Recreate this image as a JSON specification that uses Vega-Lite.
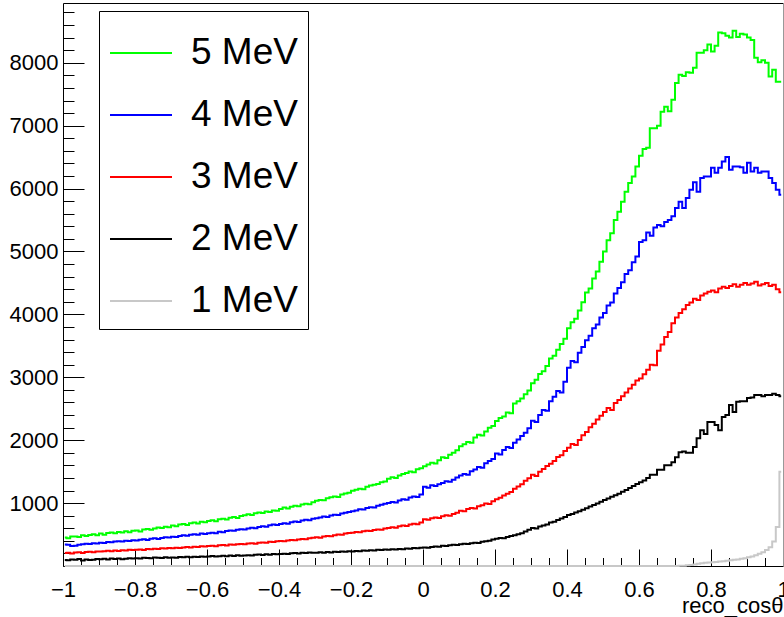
{
  "$schema": "https://vega.github.io/schema/vega-lite/v6.json",
  "width": 720,
  "height": 563,
  "autosize": {"type": "none"},
  "padding": {"left": 63, "top": 3, "right": 1, "bottom": 51},
  "background": "white",
  "config": {
    "font": "Liberation Sans",
    "view": {"stroke": null},
    "axis": {
      "grid": false,
      "zindex": 0,
      "labelColor": "black",
      "labelFontSize": 22,
      "labelFont": "Liberation Sans",
      "tickColor": "black",
      "tickWidth": 1,
      "domainColor": "black",
      "domainWidth": 1,
      "titleColor": "black",
      "titleFont": "Liberation Sans",
      "titleFontWeight": "normal",
      "labelOverlap": false,
      "labelFlush": false
    }
  },
  "datasets": {
    "e5": [
      {"c":-0.995,"n":452},{"c":-0.985,"n":441},{"c":-0.975,"n":468},{"c":-0.965,"n":470},{"c":-0.955,"n":463},{"c":-0.945,"n":487},{"c":-0.935,"n":478},{"c":-0.925,"n":492},{"c":-0.915,"n":503},{"c":-0.905,"n":488},
      {"c":-0.895,"n":515},{"c":-0.885,"n":498},{"c":-0.875,"n":524},{"c":-0.865,"n":531},{"c":-0.855,"n":519},{"c":-0.845,"n":540},{"c":-0.835,"n":533},{"c":-0.825,"n":552},{"c":-0.815,"n":538},{"c":-0.805,"n":561},
      {"c":-0.795,"n":566},{"c":-0.785,"n":548},{"c":-0.775,"n":579},{"c":-0.765,"n":590},{"c":-0.755,"n":575},{"c":-0.745,"n":598},{"c":-0.735,"n":611},{"c":-0.725,"n":603},{"c":-0.715,"n":624},{"c":-0.705,"n":618},
      {"c":-0.695,"n":645},{"c":-0.685,"n":631},{"c":-0.675,"n":658},{"c":-0.665,"n":668},{"c":-0.655,"n":652},{"c":-0.645,"n":679},{"c":-0.635,"n":690},{"c":-0.625,"n":676},{"c":-0.615,"n":702},{"c":-0.605,"n":695},
      {"c":-0.595,"n":716},{"c":-0.585,"n":728},{"c":-0.575,"n":711},{"c":-0.565,"n":745},{"c":-0.555,"n":752},{"c":-0.545,"n":740},{"c":-0.535,"n":768},{"c":-0.525,"n":779},{"c":-0.515,"n":763},{"c":-0.505,"n":794},
      {"c":-0.495,"n":806},{"c":-0.485,"n":822},{"c":-0.475,"n":810},{"c":-0.465,"n":838},{"c":-0.455,"n":851},{"c":-0.445,"n":842},{"c":-0.435,"n":866},{"c":-0.425,"n":858},{"c":-0.415,"n":884},{"c":-0.405,"n":879},
      {"c":-0.395,"n":905},{"c":-0.385,"n":928},{"c":-0.375,"n":916},{"c":-0.365,"n":942},{"c":-0.355,"n":959},{"c":-0.345,"n":948},{"c":-0.335,"n":976},{"c":-0.325,"n":991},{"c":-0.315,"n":982},{"c":-0.305,"n":1013},
      {"c":-0.295,"n":1036},{"c":-0.285,"n":1051},{"c":-0.275,"n":1047},{"c":-0.265,"n":1079},{"c":-0.255,"n":1093},{"c":-0.245,"n":1104},{"c":-0.235,"n":1098},{"c":-0.225,"n":1135},{"c":-0.215,"n":1152},{"c":-0.205,"n":1163},
      {"c":-0.195,"n":1195},{"c":-0.185,"n":1214},{"c":-0.175,"n":1229},{"c":-0.165,"n":1222},{"c":-0.155,"n":1258},{"c":-0.145,"n":1281},{"c":-0.135,"n":1290},{"c":-0.125,"n":1305},{"c":-0.115,"n":1331},{"c":-0.105,"n":1342},
      {"c":-0.095,"n":1386},{"c":-0.085,"n":1410},{"c":-0.075,"n":1398},{"c":-0.065,"n":1437},{"c":-0.055,"n":1462},{"c":-0.045,"n":1480},{"c":-0.035,"n":1503},{"c":-0.025,"n":1491},{"c":-0.015,"n":1539},{"c":-0.005,"n":1552},
      {"c":0.005,"n":1584},{"c":0.015,"n":1612},{"c":0.025,"n":1641},{"c":0.035,"n":1628},{"c":0.045,"n":1683},{"c":0.055,"n":1730},{"c":0.065,"n":1718},{"c":0.075,"n":1769},{"c":0.085,"n":1801},{"c":0.095,"n":1842},
      {"c":0.105,"n":1903},{"c":0.115,"n":1936},{"c":0.125,"n":1972},{"c":0.135,"n":1958},{"c":0.145,"n":2041},{"c":0.155,"n":2088},{"c":0.165,"n":2075},{"c":0.175,"n":2140},{"c":0.185,"n":2196},{"c":0.195,"n":2225},
      {"c":0.205,"n":2304},{"c":0.215,"n":2351},{"c":0.225,"n":2378},{"c":0.235,"n":2442},{"c":0.245,"n":2430},{"c":0.255,"n":2583},{"c":0.265,"n":2618},{"c":0.275,"n":2664},{"c":0.285,"n":2731},{"c":0.295,"n":2790},
      {"c":0.305,"n":2904},{"c":0.315,"n":2962},{"c":0.325,"n":3051},{"c":0.335,"n":3094},{"c":0.345,"n":3180},{"c":0.355,"n":3298},{"c":0.365,"n":3342},{"c":0.375,"n":3436},{"c":0.385,"n":3530},{"c":0.395,"n":3612},
      {"c":0.405,"n":3781},{"c":0.415,"n":3874},{"c":0.425,"n":3929},{"c":0.435,"n":4060},{"c":0.445,"n":4192},{"c":0.455,"n":4346},{"c":0.465,"n":4410},{"c":0.475,"n":4571},{"c":0.485,"n":4680},{"c":0.495,"n":4835},
      {"c":0.505,"n":5000},{"c":0.515,"n":5180},{"c":0.525,"n":5290},{"c":0.535,"n":5500},{"c":0.545,"n":5630},{"c":0.555,"n":5790},{"c":0.565,"n":5950},{"c":0.575,"n":6090},{"c":0.585,"n":6190},{"c":0.595,"n":6350},
      {"c":0.605,"n":6520},{"c":0.615,"n":6630},{"c":0.625,"n":6650},{"c":0.635,"n":6960},{"c":0.645,"n":6960},{"c":0.655,"n":7000},{"c":0.665,"n":7220},{"c":0.675,"n":7300},{"c":0.685,"n":7230},{"c":0.695,"n":7410},
      {"c":0.705,"n":7680},{"c":0.715,"n":7810},{"c":0.725,"n":7790},{"c":0.735,"n":7850},{"c":0.745,"n":7840},{"c":0.755,"n":7920},{"c":0.765,"n":8160},{"c":0.775,"n":8160},{"c":0.785,"n":8200},{"c":0.795,"n":8290},
      {"c":0.805,"n":8180},{"c":0.815,"n":8270},{"c":0.825,"n":8480},{"c":0.835,"n":8470},{"c":0.845,"n":8430},{"c":0.855,"n":8400},{"c":0.865,"n":8510},{"c":0.875,"n":8410},{"c":0.885,"n":8460},{"c":0.895,"n":8450},
      {"c":0.905,"n":8400},{"c":0.915,"n":8360},{"c":0.925,"n":8080},{"c":0.935,"n":8010},{"c":0.945,"n":8040},{"c":0.955,"n":8000},{"c":0.965,"n":7780},{"c":0.975,"n":7890},{"c":0.985,"n":7700},{"c":0.995,"n":7700}
    ],
    "e4": [
      {"c":-0.995,"n":340},{"c":-0.985,"n":336},{"c":-0.975,"n":318},{"c":-0.965,"n":322},{"c":-0.955,"n":338},{"c":-0.945,"n":345},{"c":-0.935,"n":352},{"c":-0.925,"n":348},{"c":-0.915,"n":361},{"c":-0.905,"n":357},
      {"c":-0.895,"n":370},{"c":-0.885,"n":366},{"c":-0.875,"n":381},{"c":-0.865,"n":376},{"c":-0.855,"n":388},{"c":-0.845,"n":395},{"c":-0.835,"n":389},{"c":-0.825,"n":401},{"c":-0.815,"n":398},{"c":-0.805,"n":410},
      {"c":-0.795,"n":407},{"c":-0.785,"n":418},{"c":-0.775,"n":426},{"c":-0.765,"n":415},{"c":-0.755,"n":433},{"c":-0.745,"n":440},{"c":-0.735,"n":431},{"c":-0.725,"n":447},{"c":-0.715,"n":458},{"c":-0.705,"n":452},
      {"c":-0.695,"n":466},{"c":-0.685,"n":462},{"c":-0.675,"n":475},{"c":-0.665,"n":487},{"c":-0.655,"n":480},{"c":-0.645,"n":495},{"c":-0.635,"n":506},{"c":-0.625,"n":498},{"c":-0.615,"n":515},{"c":-0.605,"n":509},
      {"c":-0.595,"n":522},{"c":-0.585,"n":530},{"c":-0.575,"n":519},{"c":-0.565,"n":545},{"c":-0.555,"n":538},{"c":-0.545,"n":556},{"c":-0.535,"n":566},{"c":-0.525,"n":559},{"c":-0.515,"n":575},{"c":-0.505,"n":584},
      {"c":-0.495,"n":579},{"c":-0.485,"n":595},{"c":-0.475,"n":608},{"c":-0.465,"n":601},{"c":-0.455,"n":619},{"c":-0.445,"n":630},{"c":-0.435,"n":624},{"c":-0.425,"n":647},{"c":-0.415,"n":659},{"c":-0.405,"n":650},
      {"c":-0.395,"n":668},{"c":-0.385,"n":680},{"c":-0.375,"n":673},{"c":-0.365,"n":695},{"c":-0.355,"n":708},{"c":-0.345,"n":701},{"c":-0.335,"n":722},{"c":-0.325,"n":736},{"c":-0.315,"n":729},{"c":-0.305,"n":752},
      {"c":-0.295,"n":760},{"c":-0.285,"n":771},{"c":-0.275,"n":785},{"c":-0.265,"n":779},{"c":-0.255,"n":801},{"c":-0.245,"n":816},{"c":-0.235,"n":810},{"c":-0.225,"n":834},{"c":-0.215,"n":847},{"c":-0.205,"n":858},
      {"c":-0.195,"n":869},{"c":-0.185,"n":882},{"c":-0.175,"n":903},{"c":-0.165,"n":897},{"c":-0.155,"n":921},{"c":-0.145,"n":934},{"c":-0.135,"n":928},{"c":-0.125,"n":957},{"c":-0.115,"n":972},{"c":-0.105,"n":990},
      {"c":-0.095,"n":1002},{"c":-0.085,"n":1018},{"c":-0.075,"n":1011},{"c":-0.065,"n":1043},{"c":-0.055,"n":1060},{"c":-0.045,"n":1052},{"c":-0.035,"n":1088},{"c":-0.025,"n":1104},{"c":-0.015,"n":1097},{"c":-0.005,"n":1135},
      {"c":0.005,"n":1260},{"c":0.015,"n":1245},{"c":0.025,"n":1282},{"c":0.035,"n":1270},{"c":0.045,"n":1301},{"c":0.055,"n":1320},{"c":0.065,"n":1346},{"c":0.075,"n":1338},{"c":0.085,"n":1372},{"c":0.095,"n":1405},
      {"c":0.105,"n":1440},{"c":0.115,"n":1462},{"c":0.125,"n":1451},{"c":0.135,"n":1508},{"c":0.145,"n":1536},{"c":0.155,"n":1575},{"c":0.165,"n":1560},{"c":0.175,"n":1632},{"c":0.185,"n":1670},{"c":0.195,"n":1701},
      {"c":0.205,"n":1790},{"c":0.215,"n":1772},{"c":0.225,"n":1845},{"c":0.235,"n":1890},{"c":0.245,"n":1875},{"c":0.255,"n":1960},{"c":0.265,"n":2010},{"c":0.275,"n":2065},{"c":0.285,"n":2120},{"c":0.295,"n":2190},
      {"c":0.305,"n":2310},{"c":0.315,"n":2290},{"c":0.325,"n":2400},{"c":0.335,"n":2480},{"c":0.345,"n":2470},{"c":0.355,"n":2620},{"c":0.365,"n":2690},{"c":0.375,"n":2780},{"c":0.385,"n":2760},{"c":0.395,"n":2930},
      {"c":0.405,"n":3150},{"c":0.415,"n":3260},{"c":0.425,"n":3240},{"c":0.435,"n":3390},{"c":0.445,"n":3480},{"c":0.455,"n":3590},{"c":0.465,"n":3660},{"c":0.475,"n":3780},{"c":0.485,"n":3840},{"c":0.495,"n":3950},
      {"c":0.505,"n":4020},{"c":0.515,"n":4140},{"c":0.525,"n":4190},{"c":0.535,"n":4330},{"c":0.545,"n":4420},{"c":0.555,"n":4510},{"c":0.565,"n":4640},{"c":0.575,"n":4700},{"c":0.585,"n":4830},{"c":0.595,"n":4920},
      {"c":0.605,"n":5150},{"c":0.615,"n":5180},{"c":0.625,"n":5300},{"c":0.635,"n":5250},{"c":0.645,"n":5380},{"c":0.655,"n":5420},{"c":0.665,"n":5400},{"c":0.675,"n":5470},{"c":0.685,"n":5500},{"c":0.695,"n":5560},
      {"c":0.705,"n":5690},{"c":0.715,"n":5790},{"c":0.725,"n":5690},{"c":0.735,"n":5850},{"c":0.745,"n":5980},{"c":0.755,"n":6100},{"c":0.765,"n":5950},{"c":0.775,"n":6170},{"c":0.785,"n":6190},{"c":0.795,"n":6190},
      {"c":0.805,"n":6330},{"c":0.815,"n":6250},{"c":0.825,"n":6330},{"c":0.835,"n":6430},{"c":0.845,"n":6500},{"c":0.855,"n":6300},{"c":0.865,"n":6350},{"c":0.875,"n":6350},{"c":0.885,"n":6340},{"c":0.895,"n":6250},
      {"c":0.905,"n":6410},{"c":0.915,"n":6270},{"c":0.925,"n":6330},{"c":0.935,"n":6250},{"c":0.945,"n":6270},{"c":0.955,"n":6270},{"c":0.965,"n":6170},{"c":0.975,"n":6090},{"c":0.985,"n":5980},{"c":0.995,"n":5900}
    ],
    "e3": [
      {"c":-0.995,"n":205},{"c":-0.985,"n":212},{"c":-0.975,"n":198},{"c":-0.965,"n":214},{"c":-0.955,"n":219},{"c":-0.945,"n":208},{"c":-0.935,"n":223},{"c":-0.925,"n":227},{"c":-0.915,"n":218},{"c":-0.905,"n":231},
      {"c":-0.895,"n":229},{"c":-0.885,"n":236},{"c":-0.875,"n":242},{"c":-0.865,"n":233},{"c":-0.855,"n":247},{"c":-0.845,"n":240},{"c":-0.835,"n":251},{"c":-0.825,"n":246},{"c":-0.815,"n":258},{"c":-0.805,"n":254},
      {"c":-0.795,"n":257},{"c":-0.785,"n":263},{"c":-0.775,"n":255},{"c":-0.765,"n":270},{"c":-0.755,"n":266},{"c":-0.745,"n":276},{"c":-0.735,"n":272},{"c":-0.725,"n":281},{"c":-0.715,"n":278},{"c":-0.705,"n":286},
      {"c":-0.695,"n":282},{"c":-0.685,"n":291},{"c":-0.675,"n":287},{"c":-0.665,"n":296},{"c":-0.655,"n":302},{"c":-0.645,"n":294},{"c":-0.635,"n":308},{"c":-0.625,"n":304},{"c":-0.615,"n":313},{"c":-0.605,"n":309},
      {"c":-0.595,"n":316},{"c":-0.585,"n":322},{"c":-0.575,"n":313},{"c":-0.565,"n":328},{"c":-0.555,"n":334},{"c":-0.545,"n":326},{"c":-0.535,"n":340},{"c":-0.525,"n":337},{"c":-0.515,"n":345},{"c":-0.505,"n":351},
      {"c":-0.495,"n":345},{"c":-0.485,"n":356},{"c":-0.475,"n":362},{"c":-0.465,"n":354},{"c":-0.455,"n":368},{"c":-0.445,"n":375},{"c":-0.435,"n":370},{"c":-0.425,"n":384},{"c":-0.415,"n":380},{"c":-0.405,"n":392},
      {"c":-0.395,"n":398},{"c":-0.385,"n":392},{"c":-0.375,"n":405},{"c":-0.365,"n":414},{"c":-0.355,"n":409},{"c":-0.345,"n":423},{"c":-0.335,"n":431},{"c":-0.325,"n":426},{"c":-0.315,"n":440},{"c":-0.305,"n":449},
      {"c":-0.295,"n":456},{"c":-0.285,"n":451},{"c":-0.275,"n":468},{"c":-0.265,"n":477},{"c":-0.255,"n":472},{"c":-0.245,"n":490},{"c":-0.235,"n":502},{"c":-0.225,"n":496},{"c":-0.215,"n":515},{"c":-0.205,"n":524},
      {"c":-0.195,"n":530},{"c":-0.185,"n":541},{"c":-0.175,"n":536},{"c":-0.165,"n":552},{"c":-0.155,"n":561},{"c":-0.145,"n":556},{"c":-0.135,"n":574},{"c":-0.125,"n":582},{"c":-0.115,"n":577},{"c":-0.105,"n":596},
      {"c":-0.095,"n":605},{"c":-0.085,"n":617},{"c":-0.075,"n":610},{"c":-0.065,"n":630},{"c":-0.055,"n":643},{"c":-0.045,"n":637},{"c":-0.035,"n":660},{"c":-0.025,"n":671},{"c":-0.015,"n":664},{"c":-0.005,"n":690},
      {"c":0.005,"n":745},{"c":0.015,"n":736},{"c":0.025,"n":760},{"c":0.035,"n":772},{"c":0.045,"n":765},{"c":0.055,"n":792},{"c":0.065,"n":806},{"c":0.075,"n":799},{"c":0.085,"n":828},{"c":0.095,"n":845},
      {"c":0.105,"n":880},{"c":0.115,"n":871},{"c":0.125,"n":905},{"c":0.135,"n":921},{"c":0.145,"n":914},{"c":0.155,"n":948},{"c":0.165,"n":967},{"c":0.175,"n":992},{"c":0.185,"n":984},{"c":0.195,"n":1030},
      {"c":0.205,"n":1060},{"c":0.215,"n":1085},{"c":0.225,"n":1120},{"c":0.235,"n":1150},{"c":0.245,"n":1176},{"c":0.255,"n":1230},{"c":0.265,"n":1262},{"c":0.275,"n":1301},{"c":0.285,"n":1356},{"c":0.295,"n":1395},
      {"c":0.305,"n":1450},{"c":0.315,"n":1432},{"c":0.325,"n":1498},{"c":0.335,"n":1541},{"c":0.345,"n":1590},{"c":0.355,"n":1625},{"c":0.365,"n":1670},{"c":0.375,"n":1731},{"c":0.385,"n":1762},{"c":0.395,"n":1830},
      {"c":0.405,"n":1880},{"c":0.415,"n":1940},{"c":0.425,"n":1925},{"c":0.435,"n":2005},{"c":0.445,"n":2080},{"c":0.455,"n":2130},{"c":0.465,"n":2205},{"c":0.475,"n":2260},{"c":0.485,"n":2330},{"c":0.495,"n":2390},
      {"c":0.505,"n":2450},{"c":0.515,"n":2510},{"c":0.525,"n":2480},{"c":0.535,"n":2590},{"c":0.545,"n":2640},{"c":0.555,"n":2700},{"c":0.565,"n":2760},{"c":0.575,"n":2820},{"c":0.585,"n":2880},{"c":0.595,"n":2950},
      {"c":0.605,"n":2980},{"c":0.615,"n":3050},{"c":0.625,"n":3120},{"c":0.635,"n":3200},{"c":0.645,"n":3190},{"c":0.655,"n":3420},{"c":0.665,"n":3520},{"c":0.675,"n":3640},{"c":0.685,"n":3720},{"c":0.695,"n":3860},
      {"c":0.705,"n":3950},{"c":0.715,"n":4020},{"c":0.725,"n":4080},{"c":0.735,"n":4150},{"c":0.745,"n":4190},{"c":0.755,"n":4250},{"c":0.765,"n":4230},{"c":0.775,"n":4300},{"c":0.785,"n":4330},{"c":0.795,"n":4360},
      {"c":0.805,"n":4380},{"c":0.815,"n":4350},{"c":0.825,"n":4410},{"c":0.835,"n":4440},{"c":0.845,"n":4420},{"c":0.855,"n":4450},{"c":0.865,"n":4480},{"c":0.875,"n":4440},{"c":0.885,"n":4470},{"c":0.895,"n":4500},
      {"c":0.905,"n":4470},{"c":0.915,"n":4490},{"c":0.925,"n":4520},{"c":0.935,"n":4460},{"c":0.945,"n":4480},{"c":0.955,"n":4500},{"c":0.965,"n":4450},{"c":0.975,"n":4470},{"c":0.985,"n":4400},{"c":0.995,"n":4350}
    ],
    "e2": [
      {"c":-0.995,"n":95},{"c":-0.985,"n":90},{"c":-0.975,"n":102},{"c":-0.965,"n":98},{"c":-0.955,"n":110},{"c":-0.945,"n":88},{"c":-0.935,"n":104},{"c":-0.925,"n":97},{"c":-0.915,"n":101},{"c":-0.905,"n":112},
      {"c":-0.895,"n":108},{"c":-0.885,"n":115},{"c":-0.875,"n":103},{"c":-0.865,"n":118},{"c":-0.855,"n":112},{"c":-0.845,"n":121},{"c":-0.835,"n":109},{"c":-0.825,"n":116},{"c":-0.815,"n":124},{"c":-0.805,"n":119},
      {"c":-0.795,"n":125},{"c":-0.785,"n":118},{"c":-0.775,"n":131},{"c":-0.765,"n":127},{"c":-0.755,"n":122},{"c":-0.745,"n":135},{"c":-0.735,"n":130},{"c":-0.725,"n":126},{"c":-0.715,"n":139},{"c":-0.705,"n":133},
      {"c":-0.695,"n":137},{"c":-0.685,"n":131},{"c":-0.675,"n":142},{"c":-0.665,"n":138},{"c":-0.655,"n":146},{"c":-0.645,"n":140},{"c":-0.635,"n":149},{"c":-0.625,"n":144},{"c":-0.615,"n":152},{"c":-0.605,"n":147},
      {"c":-0.595,"n":151},{"c":-0.585,"n":158},{"c":-0.575,"n":150},{"c":-0.565,"n":156},{"c":-0.555,"n":162},{"c":-0.545,"n":155},{"c":-0.535,"n":166},{"c":-0.525,"n":160},{"c":-0.515,"n":169},{"c":-0.505,"n":163},
      {"c":-0.495,"n":168},{"c":-0.485,"n":172},{"c":-0.475,"n":165},{"c":-0.465,"n":177},{"c":-0.455,"n":181},{"c":-0.445,"n":174},{"c":-0.435,"n":186},{"c":-0.425,"n":180},{"c":-0.415,"n":190},{"c":-0.405,"n":185},
      {"c":-0.395,"n":189},{"c":-0.385,"n":195},{"c":-0.375,"n":190},{"c":-0.365,"n":201},{"c":-0.355,"n":207},{"c":-0.345,"n":199},{"c":-0.335,"n":211},{"c":-0.325,"n":205},{"c":-0.315,"n":214},{"c":-0.305,"n":210},
      {"c":-0.295,"n":212},{"c":-0.285,"n":218},{"c":-0.275,"n":209},{"c":-0.265,"n":222},{"c":-0.255,"n":216},{"c":-0.245,"n":227},{"c":-0.235,"n":221},{"c":-0.225,"n":231},{"c":-0.215,"n":226},{"c":-0.205,"n":236},
      {"c":-0.195,"n":232},{"c":-0.185,"n":240},{"c":-0.175,"n":235},{"c":-0.165,"n":246},{"c":-0.155,"n":241},{"c":-0.145,"n":252},{"c":-0.135,"n":248},{"c":-0.125,"n":257},{"c":-0.115,"n":253},{"c":-0.105,"n":262},
      {"c":-0.095,"n":258},{"c":-0.085,"n":266},{"c":-0.075,"n":261},{"c":-0.065,"n":272},{"c":-0.055,"n":268},{"c":-0.045,"n":279},{"c":-0.035,"n":274},{"c":-0.025,"n":285},{"c":-0.015,"n":281},{"c":-0.005,"n":290},
      {"c":0.005,"n":295},{"c":0.015,"n":291},{"c":0.025,"n":303},{"c":0.035,"n":310},{"c":0.045,"n":305},{"c":0.055,"n":320},{"c":0.065,"n":316},{"c":0.075,"n":330},{"c":0.085,"n":338},{"c":0.095,"n":333},
      {"c":0.105,"n":345},{"c":0.115,"n":352},{"c":0.125,"n":348},{"c":0.135,"n":362},{"c":0.145,"n":371},{"c":0.155,"n":366},{"c":0.165,"n":385},{"c":0.175,"n":392},{"c":0.185,"n":401},{"c":0.195,"n":420},
      {"c":0.205,"n":432},{"c":0.215,"n":445},{"c":0.225,"n":440},{"c":0.235,"n":462},{"c":0.245,"n":478},{"c":0.255,"n":490},{"c":0.265,"n":505},{"c":0.275,"n":520},{"c":0.285,"n":548},{"c":0.295,"n":575},
      {"c":0.305,"n":605},{"c":0.315,"n":598},{"c":0.325,"n":628},{"c":0.335,"n":645},{"c":0.345,"n":660},{"c":0.355,"n":690},{"c":0.365,"n":705},{"c":0.375,"n":730},{"c":0.385,"n":755},{"c":0.395,"n":780},
      {"c":0.405,"n":810},{"c":0.415,"n":825},{"c":0.425,"n":850},{"c":0.435,"n":872},{"c":0.445,"n":895},{"c":0.455,"n":918},{"c":0.465,"n":945},{"c":0.475,"n":968},{"c":0.485,"n":995},{"c":0.495,"n":1020},
      {"c":0.505,"n":1050},{"c":0.515,"n":1072},{"c":0.525,"n":1100},{"c":0.535,"n":1125},{"c":0.545,"n":1150},{"c":0.555,"n":1180},{"c":0.565,"n":1208},{"c":0.575,"n":1240},{"c":0.585,"n":1270},{"c":0.595,"n":1305},
      {"c":0.605,"n":1330},{"c":0.615,"n":1360},{"c":0.625,"n":1400},{"c":0.635,"n":1450},{"c":0.645,"n":1450},{"c":0.655,"n":1530},{"c":0.665,"n":1530},{"c":0.675,"n":1600},{"c":0.685,"n":1600},{"c":0.695,"n":1650},
      {"c":0.705,"n":1730},{"c":0.715,"n":1810},{"c":0.725,"n":1820},{"c":0.735,"n":1800},{"c":0.745,"n":1800},{"c":0.755,"n":1890},{"c":0.765,"n":2030},{"c":0.775,"n":2160},{"c":0.785,"n":2100},{"c":0.795,"n":2290},
      {"c":0.805,"n":2290},{"c":0.815,"n":2240},{"c":0.825,"n":2160},{"c":0.835,"n":2370},{"c":0.845,"n":2400},{"c":0.855,"n":2560},{"c":0.865,"n":2450},{"c":0.875,"n":2610},{"c":0.885,"n":2620},{"c":0.895,"n":2620},
      {"c":0.905,"n":2670},{"c":0.915,"n":2680},{"c":0.925,"n":2720},{"c":0.935,"n":2720},{"c":0.945,"n":2700},{"c":0.955,"n":2720},{"c":0.965,"n":2720},{"c":0.975,"n":2740},{"c":0.985,"n":2720},{"c":0.995,"n":2700}
    ],
    "e1": [
      {"c":-0.995,"n":0},{"c":-0.985,"n":0},{"c":-0.975,"n":0},{"c":-0.965,"n":0},{"c":-0.955,"n":0},{"c":-0.945,"n":0},{"c":-0.935,"n":0},{"c":-0.925,"n":0},{"c":-0.915,"n":0},{"c":-0.905,"n":0},
      {"c":-0.895,"n":0},{"c":-0.885,"n":0},{"c":-0.875,"n":0},{"c":-0.865,"n":0},{"c":-0.855,"n":0},{"c":-0.845,"n":0},{"c":-0.835,"n":0},{"c":-0.825,"n":0},{"c":-0.815,"n":0},{"c":-0.805,"n":0},
      {"c":-0.795,"n":0},{"c":-0.785,"n":0},{"c":-0.775,"n":0},{"c":-0.765,"n":0},{"c":-0.755,"n":0},{"c":-0.745,"n":0},{"c":-0.735,"n":0},{"c":-0.725,"n":0},{"c":-0.715,"n":0},{"c":-0.705,"n":0},
      {"c":-0.695,"n":0},{"c":-0.685,"n":0},{"c":-0.675,"n":0},{"c":-0.665,"n":0},{"c":-0.655,"n":0},{"c":-0.645,"n":0},{"c":-0.635,"n":0},{"c":-0.625,"n":0},{"c":-0.615,"n":0},{"c":-0.605,"n":0},
      {"c":-0.595,"n":0},{"c":-0.585,"n":0},{"c":-0.575,"n":0},{"c":-0.565,"n":0},{"c":-0.555,"n":0},{"c":-0.545,"n":0},{"c":-0.535,"n":0},{"c":-0.525,"n":0},{"c":-0.515,"n":0},{"c":-0.505,"n":0},
      {"c":-0.495,"n":0},{"c":-0.485,"n":0},{"c":-0.475,"n":0},{"c":-0.465,"n":0},{"c":-0.455,"n":0},{"c":-0.445,"n":0},{"c":-0.435,"n":0},{"c":-0.425,"n":0},{"c":-0.415,"n":0},{"c":-0.405,"n":0},
      {"c":-0.395,"n":0},{"c":-0.385,"n":0},{"c":-0.375,"n":0},{"c":-0.365,"n":0},{"c":-0.355,"n":0},{"c":-0.345,"n":0},{"c":-0.335,"n":0},{"c":-0.325,"n":0},{"c":-0.315,"n":0},{"c":-0.305,"n":0},
      {"c":-0.295,"n":0},{"c":-0.285,"n":0},{"c":-0.275,"n":0},{"c":-0.265,"n":0},{"c":-0.255,"n":0},{"c":-0.245,"n":0},{"c":-0.235,"n":0},{"c":-0.225,"n":0},{"c":-0.215,"n":0},{"c":-0.205,"n":0},
      {"c":-0.195,"n":0},{"c":-0.185,"n":0},{"c":-0.175,"n":0},{"c":-0.165,"n":0},{"c":-0.155,"n":0},{"c":-0.145,"n":0},{"c":-0.135,"n":0},{"c":-0.125,"n":0},{"c":-0.115,"n":0},{"c":-0.105,"n":0},
      {"c":-0.095,"n":0},{"c":-0.085,"n":0},{"c":-0.075,"n":0},{"c":-0.065,"n":0},{"c":-0.055,"n":0},{"c":-0.045,"n":0},{"c":-0.035,"n":0},{"c":-0.025,"n":0},{"c":-0.015,"n":0},{"c":-0.005,"n":0},
      {"c":0.005,"n":0},{"c":0.015,"n":0},{"c":0.025,"n":0},{"c":0.035,"n":0},{"c":0.045,"n":0},{"c":0.055,"n":0},{"c":0.065,"n":0},{"c":0.075,"n":0},{"c":0.085,"n":0},{"c":0.095,"n":0},
      {"c":0.105,"n":0},{"c":0.115,"n":0},{"c":0.125,"n":0},{"c":0.135,"n":0},{"c":0.145,"n":0},{"c":0.155,"n":0},{"c":0.165,"n":0},{"c":0.175,"n":0},{"c":0.185,"n":0},{"c":0.195,"n":0},
      {"c":0.205,"n":0},{"c":0.215,"n":0},{"c":0.225,"n":0},{"c":0.235,"n":0},{"c":0.245,"n":0},{"c":0.255,"n":0},{"c":0.265,"n":0},{"c":0.275,"n":0},{"c":0.285,"n":0},{"c":0.295,"n":0},
      {"c":0.305,"n":0},{"c":0.315,"n":0},{"c":0.325,"n":0},{"c":0.335,"n":0},{"c":0.345,"n":0},{"c":0.355,"n":0},{"c":0.365,"n":0},{"c":0.375,"n":0},{"c":0.385,"n":0},{"c":0.395,"n":0},
      {"c":0.405,"n":0},{"c":0.415,"n":0},{"c":0.425,"n":0},{"c":0.435,"n":0},{"c":0.445,"n":0},{"c":0.455,"n":0},{"c":0.465,"n":0},{"c":0.475,"n":0},{"c":0.485,"n":0},{"c":0.495,"n":0},
      {"c":0.505,"n":0},{"c":0.515,"n":0},{"c":0.525,"n":0},{"c":0.535,"n":0},{"c":0.545,"n":0},{"c":0.555,"n":0},{"c":0.565,"n":0},{"c":0.575,"n":0},{"c":0.585,"n":0},{"c":0.595,"n":0},
      {"c":0.605,"n":0},{"c":0.615,"n":0},{"c":0.625,"n":0},{"c":0.635,"n":0},{"c":0.645,"n":0},{"c":0.655,"n":0},{"c":0.665,"n":0},{"c":0.675,"n":0},{"c":0.685,"n":0},{"c":0.695,"n":0},
      {"c":0.705,"n":0},{"c":0.715,"n":2},{"c":0.725,"n":5},{"c":0.735,"n":10},{"c":0.745,"n":15},{"c":0.755,"n":25},{"c":0.765,"n":35},{"c":0.775,"n":45},{"c":0.785,"n":50},{"c":0.795,"n":55},
      {"c":0.805,"n":60},{"c":0.815,"n":65},{"c":0.825,"n":70},{"c":0.835,"n":75},{"c":0.845,"n":85},{"c":0.855,"n":90},{"c":0.865,"n":100},{"c":0.875,"n":105},{"c":0.885,"n":115},{"c":0.895,"n":125},
      {"c":0.905,"n":140},{"c":0.915,"n":150},{"c":0.925,"n":170},{"c":0.935,"n":195},{"c":0.945,"n":220},{"c":0.955,"n":255},{"c":0.965,"n":300},{"c":0.975,"n":390},{"c":0.985,"n":620},{"c":0.995,"n":1500}
    ]
  },
  "layer": [
    {
      "data": {"name": "e5"},
      "mark": {"type": "line", "interpolate": "step", "strokeWidth": 2},
      "encoding": {
        "x": {
          "field": "c", "type": "quantitative",
          "scale": {"domain": [-1, 1], "nice": false, "zero": false},
          "axis": {
            "orient": "bottom",
            "values": [-1, -0.8, -0.6, -0.4, -0.2, 0, 0.2, 0.4, 0.6, 0.8, 1],
            "format": "~g",
            "tickSize": -17,
            "labelPadding": 30,
            "title": "reco_cosθ",
            "titleFontSize": 22,
            "titleAnchor": "end",
            "titleBaseline": "alphabetic",
            "titleY": 46
          }
        },
        "y": {
          "field": "n", "type": "quantitative",
          "scale": {"domain": [0, 8950], "nice": false},
          "axis": {
            "orient": "left",
            "values": [1000, 2000, 3000, 4000, 5000, 6000, 7000, 8000],
            "format": "d",
            "tickSize": -21,
            "labelPadding": 26,
            "title": null
          }
        },
        "color": {
          "datum": "5 MeV", "type": "nominal",
          "scale": {
            "domain": ["5 MeV", "4 MeV", "3 MeV", "2 MeV", "1 MeV"],
            "range": ["#00ff00", "#0000ff", "#ff0000", "#000000", "#c8c8c8"]
          },
          "legend": {
            "orient": "none",
            "legendX": 36,
            "legendY": 8,
            "title": null,
            "symbolType": "stroke",
            "symbolSize": 3844,
            "symbolStrokeWidth": 2,
            "labelFontSize": 37,
            "labelFont": "Liberation Sans",
            "labelColor": "black",
            "labelOffset": 18,
            "labelLimit": 0,
            "rowPadding": 12,
            "padding": 10,
            "strokeColor": "black",
            "fillColor": "white",
            "cornerRadius": 0
          }
        }
      }
    },
    {
      "data": {"name": "e4"},
      "mark": {"type": "line", "interpolate": "step", "strokeWidth": 2},
      "encoding": {
        "x": {
          "field": "c", "type": "quantitative",
          "axis": {
            "orient": "bottom",
            "values": [-0.95, -0.9, -0.85, -0.75, -0.7, -0.65, -0.55, -0.5, -0.45, -0.35, -0.3, -0.25, -0.15, -0.1, -0.05, 0.05, 0.1, 0.15, 0.25, 0.3, 0.35, 0.45, 0.5, 0.55, 0.65, 0.7, 0.75, 0.85, 0.9, 0.95],
            "labels": false,
            "domain": false,
            "tickSize": -8.5,
            "title": null
          }
        },
        "y": {
          "field": "n", "type": "quantitative",
          "axis": {
            "orient": "left",
            "values": [200, 400, 600, 800, 1200, 1400, 1600, 1800, 2200, 2400, 2600, 2800, 3200, 3400, 3600, 3800, 4200, 4400, 4600, 4800, 5200, 5400, 5600, 5800, 6200, 6400, 6600, 6800, 7200, 7400, 7600, 7800, 8200, 8400, 8600, 8800],
            "labels": false,
            "domain": false,
            "tickSize": -11,
            "title": null
          }
        },
        "color": {"datum": "4 MeV", "type": "nominal"}
      }
    },
    {
      "data": {"name": "e3"},
      "mark": {"type": "line", "interpolate": "step", "strokeWidth": 2},
      "encoding": {
        "x": {
          "field": "c", "type": "quantitative",
          "axis": {"orient": "top", "labels": false, "ticks": false, "domain": true, "title": null}
        },
        "y": {
          "field": "n", "type": "quantitative",
          "axis": {"orient": "right", "labels": false, "ticks": false, "domain": true, "domainColor": "#999999", "title": null}
        },
        "color": {"datum": "3 MeV", "type": "nominal"}
      }
    },
    {
      "data": {"name": "e2"},
      "mark": {"type": "line", "interpolate": "step", "strokeWidth": 2},
      "encoding": {
        "x": {"field": "c", "type": "quantitative", "axis": null},
        "y": {"field": "n", "type": "quantitative", "axis": null},
        "color": {"datum": "2 MeV", "type": "nominal"}
      }
    },
    {
      "data": {"name": "e1"},
      "mark": {"type": "line", "interpolate": "step", "strokeWidth": 2},
      "encoding": {
        "x": {"field": "c", "type": "quantitative", "axis": null},
        "y": {"field": "n", "type": "quantitative", "axis": null},
        "color": {"datum": "1 MeV", "type": "nominal"}
      }
    }
  ],
  "resolve": {"axis": {"x": "independent", "y": "independent"}}
}
